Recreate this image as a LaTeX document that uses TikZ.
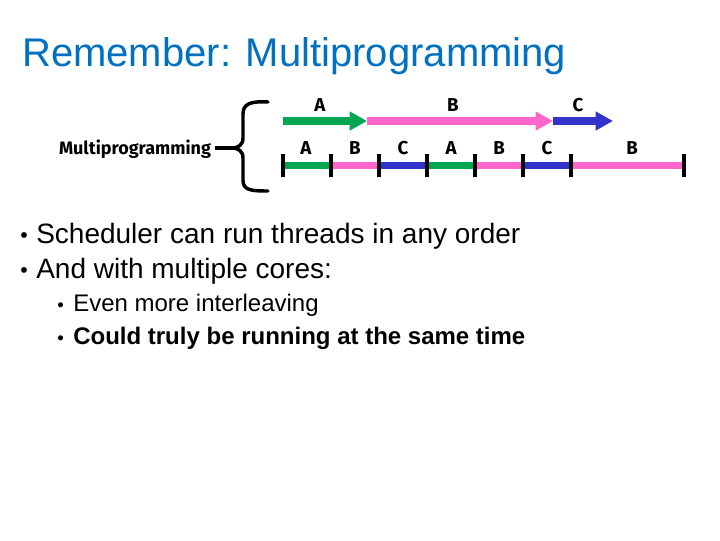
\documentclass[tikz,border=0pt]{standalone}
\usepackage{fontspec}
\setmainfont{Liberation Sans}
\newfontfamily\comicfont{Fira Sans}
\usetikzlibrary{arrows.meta}
\definecolor{titleblue}{RGB}{0,112,192}
\definecolor{tgreen}{RGB}{0,166,81}
\definecolor{tpink}{RGB}{255,102,204}
\definecolor{tblue}{RGB}{51,51,204}
\tikzset{
  lbl/.style={font=\comicfont\bfseries\fontsize{14}{16}\selectfont, inner sep=0pt, anchor=center},
  seg/.style={line width=5.25pt},
  tick/.style={line width=3pt},
  arr/.style={line width=6pt, -{Triangle[width=13.5pt,length=13pt]}},
  bul/.style={anchor=base west, inner sep=0pt},
}
\begin{document}
\begin{tikzpicture}[x=0.75pt,y=-0.75pt]
\useasboundingbox (0,0) rectangle (720,540);
% title
\node[bul, text=titleblue, font=\fontsize{30}{36}\selectfont] (title) at (22,66) {Remember: Multiprogramming};
% label
\node[lbl, anchor=base, font=\comicfont\bfseries\fontsize{13.5}{16}\selectfont] (mp) at (135,154) {Multiprogramming};
% brace
\draw[line width=2.6pt, line cap=round, line join=round] (268,102) .. controls (250,101) and (243,104) .. (243,114) -- (243,138) .. controls (243,145) and (238,148) .. (232,148) .. controls (238,148) and (243,151) .. (243,158) -- (243,180) .. controls (243,190) and (250,191) .. (268,191);
\coordinate (btip) at (232,148);
\draw[line width=2.6pt] (btip) -- ([xshift=4*0.75pt]mp.east |- btip);
% top arrows
\coordinate (a0) at (283,121);
\coordinate (a1) at (367,121);
\coordinate (a2) at (553,121);
\coordinate (a3) at (613,121);
\draw[arr, tgreen] (a0) -- (a1);
\draw[arr, tpink] (a1) -- (a2);
\draw[arr, tblue] (a2) -- (a3);
\node[lbl] (la) at (320,105) {A};
\node[lbl] (lb) at (453,105) {B};
\node[lbl] (lc) at (578,105) {C};
% timeline
\foreach \i/\x in {0/283,1/331,2/379,3/427,4/475,5/523,6/571,7/684}
  \coordinate (p\i) at (\x,165);
\draw[seg, tgreen] (p0) -- (p1);
\draw[seg, tpink] (p1) -- (p2);
\draw[seg, tblue] (p2) -- (p3);
\draw[seg, tgreen] (p3) -- (p4);
\draw[seg, tpink] (p4) -- (p5);
\draw[seg, tblue] (p5) -- (p6);
\draw[seg, tpink] (p6) -- (p7);
\foreach \i in {0,...,7}
  \draw[tick] ([yshift=11*0.75pt]p\i) -- ([yshift=-12*0.75pt]p\i);
\node[lbl] (s1) at (306,148) {A};
\node[lbl] (s2) at (355,148) {B};
\node[lbl] (s3) at (403,148) {C};
\node[lbl] (s4) at (451,148) {A};
\node[lbl] (s5) at (499,148) {B};
\node[lbl] (s6) at (547,148) {C};
\node[lbl] (s7) at (632,148) {B};
% bullets
\node[bul, font=\fontsize{16}{18}\selectfont] (b1) at (20,242) {•};
\node[bul, font=\fontsize{21}{25}\selectfont] (t1) at (36,243) {Scheduler can run threads in any order};
\node[bul, font=\fontsize{16}{18}\selectfont] (b2) at (20,277) {•};
\node[bul, font=\fontsize{21}{25}\selectfont] (t2) at (36,278) {And with multiple cores:};
\node[bul, font=\fontsize{14}{16}\selectfont] (b3) at (57,311) {•};
\node[bul, font=\fontsize{18}{22}\selectfont] (t3) at (73,311) {Even more interleaving};
\node[bul, font=\fontsize{14}{16}\selectfont] (b4) at (57,344) {•};
\node[bul, font=\fontsize{18}{22}\selectfont\bfseries] (t4) at (73,344) {Could truly be running at the same time};
\end{tikzpicture}
\end{document}
